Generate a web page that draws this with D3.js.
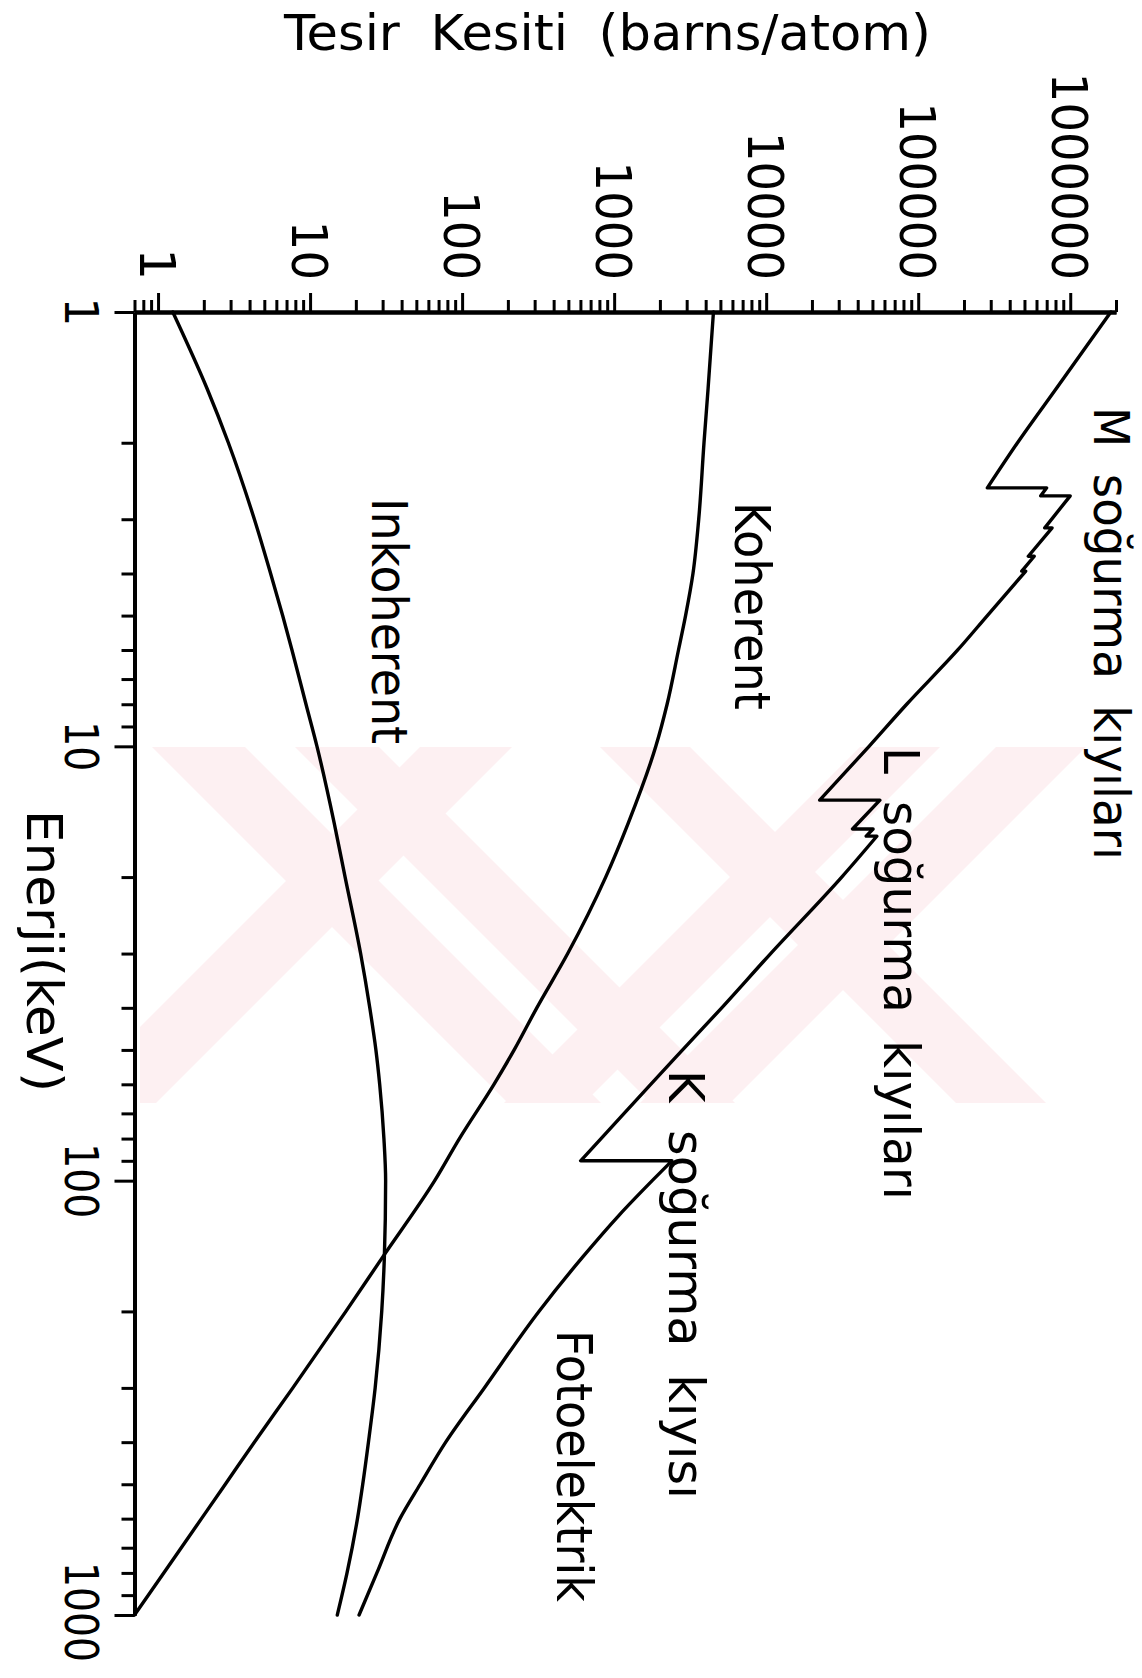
<!DOCTYPE html>
<html><head><meta charset="utf-8">
<script src="https://cdn.jsdelivr.net/npm/d3@7"></script>
<style>
html,body{margin:0;padding:0;background:#fff;}
svg{display:block;}
text{font-family:"DejaVu Sans",sans-serif;fill:#000;}
</style></head><body>
<svg id="chart" width="1142" height="1678"></svg>
<script>
// ---- data (energy in keV, cross section in barns/atom) ----
const energies   = [1,1.5,2,3,4,5,6,8,10,15,20,30,40,50,60,80,100,150,200,300,400,500,600,800,1000];
const koherent   = [4500,4150,3900,3600,3300,2950,2650,2230,1880,1240,880,495,310,220,162,96,66,30,17.2,7.7,4.3,2.77,1.93,1.09,0.70];
const inkoherent = [1.25,2.1,2.9,4.3,5.5,6.6,7.6,9.4,11.1,14.4,17.0,21.5,24.7,27.1,28.7,30.6,31.4,30.8,29.6,26.8,24.2,22.2,20.5,17.5,15.1];
const fotoEnergies = [1,1.5,2,2.54,2.54,2.65,2.65,3.14,3.14,3.65,3.65,3.95,3.95,5,6,8,10,13.3,13.3,15.5,15.5,16.1,16.1,20,30,40,50,60,80,90,90,100,120,150,200,300,400,500,600,800,1000];
const fotoelektrik = [1.85e6,8.1e5,4.5e5,2.85e5,7.0e5,6.4e5,1.0e6,6.8e5,7.6e5,5.3e5,5.8e5,4.8e5,5.1e5,2.85e5,1.82e5,8.4e4,4.75e4,2.25e4,5.6e4,3.7e4,5.05e4,4.55e4,5.35e4,3.14e4,1.07e4,5.1e3,2.82e3,1.74e3,820,602,2400,1780,1080,620,320,140,78,53,39,27.5,21];
const crossTickValues = [1,10,100,1000,10000,100000,1000000];
const crossTickLabels = ["1","10","100","1000","10000","100000","1000000"];
const energyTickValues = [1,10,100,1000];
const energyTickLabels = ["1","10","100","1000"];
const titleText = "Tesir Kesiti (barns/atom)";
const energyTitle = "Enerji(keV)";
const curveLabelTexts = ["M soğurma kıyıları","L soğurma kıyıları","K soğurma kıyısı","Fotoelektrik","Koherent","Inkoherent"];

// ---- scales ----
const svg = d3.select("#chart");
const x = d3.scaleLog().domain([0.7, 2e6]).range([134.5, 1116]);
const y = d3.scaleLog().domain([1, 1000]).range([312, 1615]);

// ---- watermark (pale pink bands) ----
const defs = svg.append("defs");
defs.append("clipPath").attr("id","wmclip").append("rect")
  .attr("x",140).attr("y",747).attr("width",950).attr("height",356);
const wmg = svg.append("g").attr("clip-path","url(#wmclip)").attr("fill","#fdf0f2");
const H = 356, top0 = 747;
const bands = [
  {t0:152,t1:245,dir:1},{t0:420,t1:512,dir:-1},
  {t0:600,t1:690,dir:1},{t0:996,t1:1086,dir:-1},
  {t0:295,t1:379,dir:1},{t0:860,t1:940,dir:-1}
];
bands.forEach(b=>{
  const s = b.dir*H;
  wmg.append("polygon").attr("points",
    `${b.t0},${top0} ${b.t1},${top0} ${b.t1+s},${top0+H} ${b.t0+s},${top0+H}`);
});

// ---- axes ----
const crossMinor = [];
for (let n=-1;n<=6;n++) for (let k=2;k<=9;k++){const v=k*Math.pow(10,n); if(v>=0.7 && v<=2.0001e6) crossMinor.push(v);}
const energyMinor = [];
for (let n=0;n<=2;n++) for (let k=2;k<=9;k++) energyMinor.push(k*Math.pow(10,n));

function styleAxis(g){
  g.selectAll("path.domain").attr("stroke","#000").attr("stroke-width",4);
  g.selectAll(".tick line").attr("stroke","#000").attr("stroke-width",3);
  g.selectAll(".tick text").remove();
}
svg.append("g").attr("transform","translate(0,312)")
  .call(d3.axisTop(x).tickValues(crossMinor).tickSize(12).tickSizeOuter(0).tickFormat(""))
  .call(styleAxis);
svg.append("g").attr("transform","translate(0,312)")
  .call(d3.axisTop(x).tickValues(crossTickValues).tickSize(19).tickSizeOuter(0).tickFormat(""))
  .call(styleAxis);
svg.append("g").attr("transform","translate(134.5,0)")
  .call(d3.axisLeft(y).tickValues(energyMinor).tickSize(13).tickSizeOuter(0).tickFormat(""))
  .call(styleAxis);
svg.append("g").attr("transform","translate(134.5,0)")
  .call(d3.axisLeft(y).tickValues(energyTickValues).tickSize(20).tickSizeOuter(0).tickFormat(""))
  .call(styleAxis);

// ---- tick labels (rotated) ----
const FS = 50;
crossTickValues.forEach((v,i)=>{
  const t = svg.append("text")
    .attr("transform",`translate(${x(v)-18},280) rotate(90)`)
    .attr("text-anchor","end").attr("font-size",FS)
    .text(crossTickLabels[i]);
  if (crossTickLabels[i].length>1) t.attr("textLength",crossTickLabels[i].length*29.6).attr("lengthAdjust","spacingAndGlyphs");
});
energyTickValues.forEach((v,i)=>{
  const len = energyTickLabels[i].length*25;
  const cy = Math.min(y(v), 1612);
  const t = svg.append("text")
    .attr("transform",`translate(65,${cy}) rotate(90)`)
    .attr("text-anchor","middle").attr("font-size",46)
    .text(energyTickLabels[i]);
  if (energyTickLabels[i].length>1) t.attr("textLength",len).attr("lengthAdjust","spacingAndGlyphs");
});

// ---- titles ----
svg.append("text").attr("x",284).attr("y",50).attr("font-size",FS)
  .attr("textLength",647).attr("lengthAdjust","spacingAndGlyphs")
  .attr("word-spacing",14).text(titleText);
svg.append("text").attr("transform","translate(27,810) rotate(90)")
  .attr("font-size",FS).attr("textLength",282).attr("lengthAdjust","spacingAndGlyphs")
  .text(energyTitle);

// ---- curves ----
const lineMono = d3.line().x(d=>x(d[1])).y(d=>y(d[0])).curve(d3.curveMonotoneY);
const curveStyle = p => p.attr("fill","none").attr("stroke","#000").attr("stroke-width",3.4)
  .attr("stroke-linejoin","round").attr("stroke-linecap","round");
svg.append("path").datum(energies.map((e,i)=>[e,koherent[i]])).attr("d",lineMono).call(curveStyle);
svg.append("path").datum(energies.map((e,i)=>[e,inkoherent[i]])).attr("d",lineMono).call(curveStyle);

// photoelectric: smooth segments between absorption edges, joined by the edge jumps
const fotoPts = fotoEnergies.map((e,i)=>[e,fotoelektrik[i]]);
const segs = [[]];
fotoPts.forEach((p,i)=>{
  if (i>0 && p[0]===fotoPts[i-1][0]) segs.push([]);
  segs[segs.length-1].push(p);
});
let fotoD = "";
segs.forEach((s,k)=>{
  let d = s.length>1 ? lineMono(s) : `M${x(s[0][1])},${y(s[0][0])}`;
  if (k>0) d = "L" + d.slice(1);
  fotoD += d;
});
svg.append("path").attr("d",fotoD).call(curveStyle);

// ---- curve labels (rotated) ----
const labelPos = [
  {x:1094,y:407,len:453,fs:49},
  {x:884,y:747,len:453,fs:50},
  {x:669,y:1070,len:429,fs:50},
  {x:557,y:1330,len:272,fs:50},
  {x:735,y:502,len:208,fs:50},
  {x:372,y:498,len:246,fs:50}
];
curveLabelTexts.forEach((t,i)=>{
  const p = labelPos[i];
  svg.append("text").attr("transform",`translate(${p.x},${p.y}) rotate(90)`)
    .attr("font-size",p.fs).attr("textLength",p.len).attr("lengthAdjust","spacingAndGlyphs")
    .attr("word-spacing",12).text(t);
});
</script>
</body></html>
